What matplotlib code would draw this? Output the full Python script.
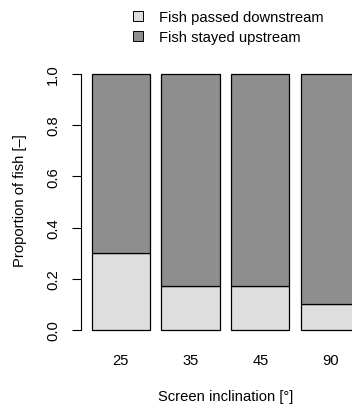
import matplotlib
matplotlib.use('Agg')
import matplotlib.pyplot as plt
from matplotlib.patches import Patch

plt.rcParams['font.family'] = ['Liberation Sans', 'DejaVu Sans']

inclination = ['25', '35', '45', '90']
passed = [0.30, 0.17, 0.17, 0.10]
stayed = [0.70, 0.83, 0.83, 0.90]
yticks = [0.0, 0.2, 0.4, 0.6, 0.8, 1.0]

light = '#dedede'
dark = '#8e8e8e'
fs = 10.6

fig = plt.figure(figsize=(3.52, 4.06), dpi=100)
# axes runs past the right edge like the original (last bar is cut)
ax = fig.add_axes([0.230, 0.1596, 0.821, 0.681])

xs = [0.7 + 1.2 * i for i in range(len(inclination))]
ax.bar(xs, passed, width=1.0, color=light, edgecolor='black', linewidth=0.9)
ax.bar(xs, stayed, width=1.0, bottom=passed, color=dark, edgecolor='black', linewidth=0.9)

ax.set_xlim(0.016, 4.984)
ax.set_ylim(-0.04, 1.04)

for s in ['top', 'right', 'bottom']:
    ax.spines[s].set_visible(False)
ax.spines['left'].set_bounds(0, 1)
ax.spines['left'].set_linewidth(0.8)

ax.set_xticks(xs)
ax.set_xticklabels(inclination, fontsize=fs)
ax.tick_params(axis='x', length=0, pad=9)
ax.set_yticks(yticks)
ax.set_yticklabels(['%.1f' % v for v in yticks], fontsize=fs, rotation=90, va='center')
ax.tick_params(axis='y', length=6.5, width=0.8, pad=8.5)

ax.set_xlabel('Screen inclination [°]', fontsize=fs)
ax.xaxis.set_label_coords(0.5, -0.202)
ax.xaxis.label.set_va('center')
ax.set_ylabel('Proportion of fish [–]', fontsize=fs)
ax.yaxis.set_label_coords(-0.211, 0.51)
ax.yaxis.label.set_va('center')

handles = [Patch(facecolor=light, edgecolor='black', linewidth=0.7),
           Patch(facecolor=dark, edgecolor='black', linewidth=0.7)]
fig.legend(handles, ['Fish passed downstream', 'Fish stayed upstream'],
           loc='upper left', bbox_to_anchor=(133 / 352, 1 - 11 / 406),
           frameon=False, fontsize=fs, handlelength=0.65, handleheight=0.65,
           handletextpad=1.1, labelspacing=0.42, borderpad=0, borderaxespad=0)

fig.savefig('out.png', dpi=100)
